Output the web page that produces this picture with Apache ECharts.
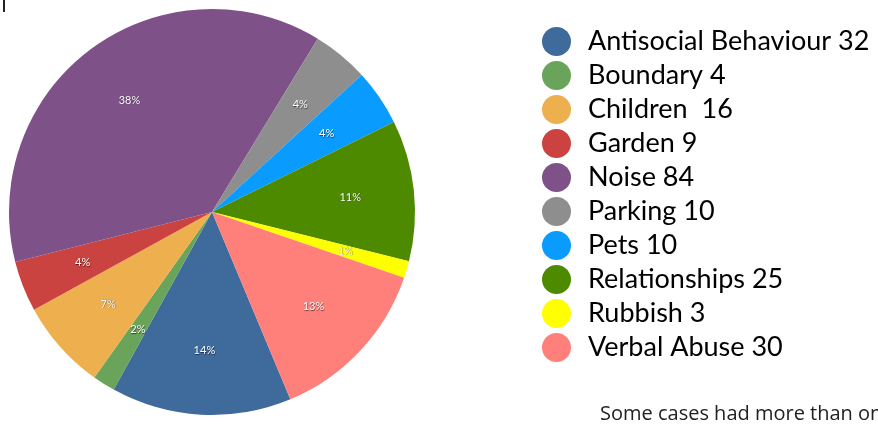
<!DOCTYPE html>
<html>
<head>
<meta charset="utf-8">
<script src="https://cdn.jsdelivr.net/npm/echarts@6/dist/echarts.min.js"></script>
<style>
html,body{margin:0;padding:0;background:#fff;overflow:hidden;}
#chart{width:878px;height:424px;}
</style>
</head>
<body>
<div id="chart"></div>
<script>
const categories = ["Antisocial Behaviour","Boundary","Children","Garden","Noise","Parking","Pets","Relationships","Rubbish","Verbal Abuse"];
const values = [32,4,16,9,84,10,10,25,3,30];
const legendLabels = ["Antisocial Behaviour 32","Boundary 4","Children  16","Garden 9","Noise 84","Parking 10","Pets 10","Relationships 25","Rubbish 3","Verbal Abuse 30"];
const colors = ["#3E6B9B","#6AA35A","#EEB04E","#CB4340","#7F5189","#8E8E8E","#0A9BFF","#4E8A00","#FFFF00","#FF7F7B"];
const note = "Some cases had more than one issue";

const total = values.reduce((a,b)=>a+b,0);
const data = categories.map((c,i)=>({name:c,value:values[i],itemStyle:{color:colors[i]}}));
const labelMap = {};
categories.forEach((c,i)=>labelMap[c]=legendLabels[i]);

const chart = echarts.init(document.getElementById('chart'), null, {renderer:'canvas'});
chart.setOption({
  animation:false,
  backgroundColor:'#fff',
  legend:{
    orient:'vertical',
    left:537, top:22,
    icon:'circle',
    itemWidth:29, itemHeight:29, itemGap:5,
    data:categories,
    formatter:n=>labelMap[n],
    textStyle:{fontFamily:'Lato',fontSize:27,color:'#000',padding:[0,0,0,12]},
    selectedMode:false
  },
  graphic:[
    {type:'rect',left:3,top:0,shape:{width:2,height:12},style:{fill:'#222'}},
    {type:'text',left:600,top:404,style:{text:note,font:'20px "Open Sans"',fill:'#222'}}
  ],
  series:[
    {
      type:'pie',
      center:[212,212],
      radius:[0,203],
      startAngle:-67.3,
      clockwise:true,
      avoidLabelOverlap:false,
      silent:true,
      label:{show:false},
      labelLine:{show:false},
      data:data
    },
    {
      type:'pie',
      center:[212,212],
      radius:[0,272],
      startAngle:-67.3,
      clockwise:true,
      avoidLabelOverlap:false,
      silent:true,
      itemStyle:{color:'rgba(0,0,0,0)'},
      label:{
        show:true,position:'inside',
        formatter:p=>Math.round(p.value/total*100)+'%',
        color:'#fff',fontFamily:'Lato',fontSize:11,
        textShadowColor:'rgba(0,0,0,0.6)',textShadowBlur:1,textShadowOffsetX:0.5,textShadowOffsetY:0.5
      },
      labelLine:{show:false},
      data:categories.map((c,i)=>({name:c,value:values[i],itemStyle:{color:'rgba(0,0,0,0)'}}))
    }
  ]
});
</script>
</body>
</html>
